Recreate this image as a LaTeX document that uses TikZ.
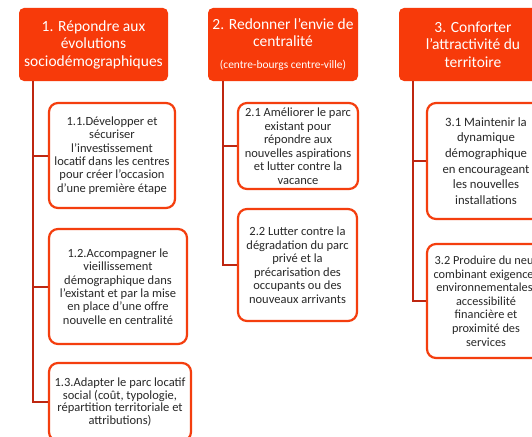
\documentclass[tikz,border=0pt]{standalone}
\usepackage{fontspec}
\setmainfont{Carlito}
\definecolor{hdrfill}{RGB}{247,58,10}
\definecolor{boxline}{RGB}{244,62,14}
\definecolor{connline}{RGB}{190,38,16}
\definecolor{txtcol}{RGB}{40,40,40}
\tikzset{
  hdr/.style={rectangle, rounded corners=5pt, fill=hdrfill, draw=none, text=white, align=center, inner sep=0pt, font=\fontsize{15.5}{17.5}\selectfont},
  sub/.style={rectangle, rounded corners=9pt, fill=white, draw=boxline, line width=2.2pt, text=txtcol, align=center, inner sep=0pt},
  conn/.style={draw=connline, line width=2pt},
  fa/.style={font=\fontsize{12.5}{13.4}\selectfont},
  fb/.style={font=\fontsize{12.5}{13.5}\selectfont},
  fc/.style={font=\fontsize{12.7}{15.7}\selectfont},
  fd/.style={font=\fontsize{12.3}{13.6}\selectfont}
}
\begin{document}
\begin{tikzpicture}[x=1pt,y=-1pt]
\clip (0,0) rectangle (532,436);
\fill[white] (0,0) rectangle (532,436);
% headers
\node[hdr, minimum width=149pt, minimum height=73pt] (h1) at (93.5,44.5) {1. Répondre aux\\évolutions\\sociodémographiques};
\node[hdr, minimum width=150pt, minimum height=73pt] (h2) at (283,44.5) {2. Redonner l’envie de\\centralité\\[4pt]{\fontsize{11.4}{13}\selectfont(centre-bourgs centre-ville)}};
\node[hdr, minimum width=148pt, minimum height=73pt] (h3) at (473,44.5) {3. Conforter\\l’attractivité du\\territoire};
% column 1
\node[sub, fa, minimum width=126pt, minimum height=105pt] (c11) at (112,155.5) {1.1.Développer et\\sécuriser\\l’investissement\\locatif dans les centres\\pour créer l’occasion\\d’une première étape};
\node[sub, fa, minimum width=138pt, minimum height=115pt] (c12) at (118,286.5) {1.2.Accompagner le\\vieillissement\\démographique dans\\l’existant et par la mise\\en place d’une offre\\nouvelle en centralité};
\node[sub, font=\fontsize{12.5}{12.5}\selectfont, minimum width=142pt, minimum height=78pt] (c13) at (120,402) {1.3.Adapter le parc locatif\\social (coût, typologie,\\répartition territoriale et\\attributions)};
% column 2
\node[sub, fb, minimum width=120pt, minimum height=86pt] (c21) at (298,146) {2.1 Améliorer le parc\\existant pour\\répondre aux\\nouvelles aspirations\\et lutter contre la\\vacance};
\node[sub, fb, minimum width=119pt, minimum height=112pt] (c22) at (297.5,265) {2.2 Lutter contre la\\dégradation du parc\\privé et la\\précarisation des\\occupants ou des\\nouveaux arrivants};
% column 3
\node[sub, fc, minimum width=118pt, minimum height=116pt] (c31) at (486,161) {3.1 Maintenir la\\dynamique\\démographique\\en encourageant\\les nouvelles\\installations};
\node[sub, fd, minimum width=118pt, minimum height=114pt] (c32) at (486,301) {3.2 Produire du neuf\\combinant exigences\\environnementales,\\accessibilité\\financière et\\proximité des\\services};
% connectors
\coordinate (t1) at ([xshift=14pt]h1.south west);
\coordinate (t2) at ([xshift=15pt]h2.south west);
\coordinate (t3) at ([xshift=14pt]h3.south west);
\draw[conn] (t1) |- (c13.west);
\draw[conn] (t1 |- c11.west) -- (c11.west);
\draw[conn] (t1 |- c12.west) -- (c12.west);
\draw[conn] (t2) |- (c22.west);
\draw[conn] (t2 |- c21.west) -- (c21.west);
\draw[conn] (t3) |- (c32.west);
\draw[conn] (t3 |- c31.west) -- (c31.west);
\end{tikzpicture}
\end{document}
